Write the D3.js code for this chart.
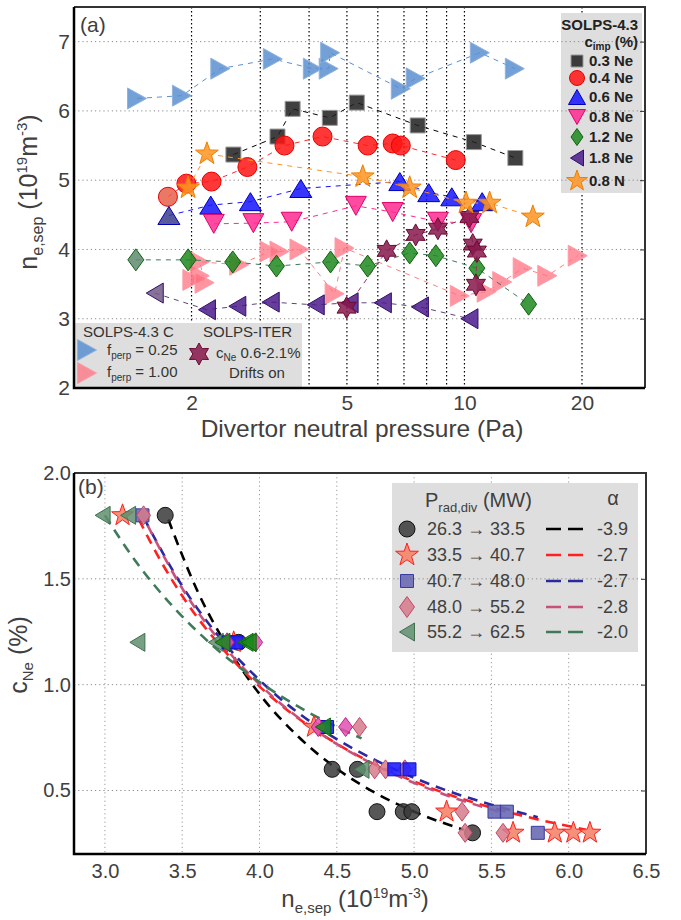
<!DOCTYPE html>
<html><head><meta charset="utf-8">
<script src="https://cdn.jsdelivr.net/npm/d3@7"></script>
<style>
body{margin:0;background:#fff}
svg{display:block}
text{font-family:"Liberation Sans",Arial,Helvetica,sans-serif}
</style>
</head><body>
<svg id="c" width="681" height="920"></svg>
<script>
// ================= DATA =================
// Panel (a): divertor neutral pressure (Pa) vs n_e,sep (1e19 m^-3)
const aXTicks = [2, 5, 10, 20];
const aYTicks = [2, 3, 4, 5, 6, 7];
const aXGrid = [2, 3, 4, 5, 6, 7, 8, 9, 10, 20];
const aYGrid = [3, 4, 5, 6, 7];

const aF025P = [1.45, 1.89, 2.37, 3.23, 4.09, 4.49, 4.53, 6.87, 7.5, 10.95, 13.46];
const aF025N = [6.18, 6.22, 6.61, 6.75, 6.61, 6.61, 6.84, 6.32, 6.47, 6.84, 6.61];
const aF100P = [2.01, 2.10, 2.16, 2.10, 2.65, 3.17, 3.36, 3.78, 4.65, 4.93, 9.73, 11.4, 12.5, 14.1, 16.3, 19.5];
const aF100N = [3.56, 3.62, 3.52, 3.82, 3.78, 3.97, 3.97, 4.00, 3.36, 4.02, 3.33, 3.39, 3.53, 3.73, 3.62, 3.91];
const aNe03P = [2.56, 3.32, 3.63, 4.52, 5.30, 7.59, 10.57, 13.5];
const aNe03N = [5.37, 5.63, 6.03, 5.90, 6.12, 5.79, 5.55, 5.32];
const aNe04P = [1.74, 1.94, 2.25, 2.78, 3.46, 4.33, 5.65, 6.55, 6.87, 9.5];
const aNe04N = [4.76, 4.95, 4.98, 5.19, 5.50, 5.63, 5.50, 5.53, 5.50, 5.29];
const aNe06P = [1.75, 2.24, 2.83, 3.81, 6.83, 8.1, 9.28, 11.1];
const aNe06N = [4.49, 4.64, 4.69, 4.88, 4.98, 4.82, 4.76, 4.69];
const aNe08P = [2.28, 2.88, 3.61, 5.27, 6.55, 8.55, 10.4];
const aNe08N = [4.37, 4.38, 4.40, 4.63, 4.54, 4.40, 4.38];
const aNe12P = [1.44, 1.96, 2.55, 3.30, 4.54, 5.65, 7.24, 8.45, 10.76, 14.6];
const aNe12N = [3.85, 3.85, 3.82, 3.76, 3.82, 3.76, 3.95, 3.91, 3.73, 3.21];
const aNe18P = [1.61, 2.19, 2.62, 3.19, 4.16, 5.08, 6.18, 7.69, 10.3];
const aNe18N = [3.37, 3.13, 3.18, 3.24, 3.20, 3.23, 3.23, 3.17, 3.00];
const aN08P = [1.96, 2.19, 5.49, 7.24, 10.09, 11.6, 14.97];
const aN08N = [4.89, 5.38, 5.05, 4.89, 4.67, 4.67, 4.47];
const aIterP = [4.99, 6.32, 7.5, 8.55, 10.3, 10.5, 10.76, 10.7];
const aIterN = [3.16, 3.98, 4.21, 4.30, 4.47, 4.07, 3.97, 3.49];
const aLegendLabels = ["0.3 Ne", "0.4 Ne", "0.6 Ne", "0.8 Ne", "1.2 Ne", "1.8 Ne", "0.8 N"];

// Panel (b): n_e,sep (1e19 m^-3) vs c_Ne (%)
const bXTicks = [3.0, 3.5, 4.0, 4.5, 5.0, 5.5, 6.0, 6.5];
const bYTicks = [0.5, 1.0, 1.5, 2.0];
const bXGrid = [3.0, 3.5, 4.0, 4.5, 5.0, 5.5, 6.0];
const bYGrid = [0.5, 1.0, 1.5];
const bPrad = ["26.3 \u2192 33.5", "33.5 \u2192 40.7", "40.7 \u2192 48.0", "48.0 \u2192 55.2", "55.2 \u2192 62.5"];
const bAlpha = ["-3.9", "-2.7", "-2.7", "-2.8", "-2.0"];

const bCircN = [3.39, 3.865, 4.47, 4.633, 4.76, 4.93, 4.985, 5.378];
const bCircC = [1.8, 1.2, 0.6, 0.6, 0.4, 0.4, 0.4, 0.3];
const bStarN = [3.114, 3.833, 4.352, 5.21, 5.64, 5.91, 6.03, 6.137];
const bStarC = [1.8, 1.2, 0.8, 0.4, 0.3, 0.3, 0.3, 0.3];
const bSqN = [3.243, 5.52, 5.60, 5.80];
const bSqC = [1.8, 0.4, 0.4, 0.3];
const bSqHiN = [3.80, 3.85, 4.437, 4.872, 4.97];
const bSqHiC = [1.2, 1.2, 0.8, 0.6, 0.6];
const bDiaN = [3.25, 4.647, 4.745, 4.815, 4.94, 5.31, 5.33, 5.575];
const bDiaC = [1.8, 0.8, 0.6, 0.6, 0.6, 0.4, 0.3, 0.3];
const bDiaHiN = [3.79, 3.975, 4.38, 4.557];
const bDiaHiC = [1.2, 1.2, 0.8, 0.8];
const bTriN = [2.985, 3.15, 3.21, 3.717, 4.66];
const bTriC = [1.8, 1.8, 1.2, 1.2, 0.6];
const bTriHiN = [3.76, 3.91, 3.93, 4.41];
const bTriHiC = [1.2, 1.2, 1.2, 0.8];

const fit1N = [3.41, 3.6, 3.8, 4.0, 4.25, 4.5, 4.75, 5.0, 5.32];
const fit1C = [1.78, 1.44, 1.17, 0.956, 0.755, 0.603, 0.488, 0.40, 0.314];
const fit2N = [3.22, 3.36, 3.54, 3.75, 4.09, 4.30, 4.58, 5.14, 5.70, 6.11];
const fit2C = [1.78, 1.586, 1.377, 1.18, 0.933, 0.815, 0.687, 0.503, 0.381, 0.315];
const fit3N = [3.25, 3.5, 3.75, 4.05, 4.4, 4.8, 5.2, 5.5, 5.8];
const fit3C = [1.79, 1.466, 1.216, 0.988, 0.789, 0.625, 0.503, 0.433, 0.374];
const fit4N = [3.25, 3.5, 3.75, 4.05, 4.4, 4.8, 5.2, 5.58];
const fit4C = [1.79, 1.455, 1.2, 0.967, 0.766, 0.601, 0.48, 0.394];
const fit5N = [3.0, 3.2, 3.45, 3.7, 4.0, 4.3, 4.66];
const fit5C = [1.8, 1.582, 1.361, 1.183, 1.0125, 0.876, 0.746];

// ================= HELPERS =================
function starPath(n, R, r) {
  const p = [];
  for (let i = 0; i < 2 * n; i++) {
    const a = -Math.PI / 2 + i * Math.PI / n, rr = i % 2 ? r : R;
    p.push((rr * Math.cos(a)).toFixed(2) + "," + (rr * Math.sin(a)).toFixed(2));
  }
  return "M" + p.join("L") + "Z";
}
function shape(type, w, h) {
  const a = w / 2, b = h / 2;
  switch (type) {
    case "right": return `M${-a},${-b}L${a},0L${-a},${b}Z`;
    case "left": return `M${a},${-b}L${-a},0L${a},${b}Z`;
    case "up": return `M0,${-b}L${a},${b}L${-a},${b}Z`;
    case "down": return `M${-a},${-b}L${a},${-b}L0,${b}Z`;
    case "square": return `M${-a},${-b}H${a}V${b}H${-a}Z`;
    case "diamond": return `M0,${-b}L${a},0L0,${b}L${-a},0Z`;
    case "circle": return `M${a},0A${a},${a} 0 1,1 ${-a},0A${a},${a} 0 1,1 ${a},0Z`;
    case "star5": return starPath(5, a, a * 0.40);
    case "star6": return starPath(6, a, a * 0.56);
  }
}
function marker(g, x, y, st, fillOverride) {
  g.append("path").attr("transform", `translate(${x},${y})`)
    .attr("d", shape(st.shape, st.w, st.h))
    .attr("fill", fillOverride || st.fill).attr("fill-opacity", st.op == null ? 0.85 : st.op)
    .attr("stroke", st.stroke).attr("stroke-width", 1);
}

const svg = d3.select("#c");
svg.append("rect").attr("width", 681).attr("height", 920).attr("fill", "#fff");
const TXT = "#404040";

// ================= PANEL (a) =================
const xA = d3.scaleLog().domain([1, 29]).range([74, 645]);
const yA = d3.scaleLinear().domain([2, 7.5]).range([388, 7]);

svg.append("g").selectAll("line").data(aXGrid).join("line")
  .attr("x1", d => xA(d)).attr("x2", d => xA(d)).attr("y1", 7).attr("y2", 388)
  .attr("stroke", "#000").attr("stroke-width", 1.2).attr("stroke-dasharray", "1.5,2.5");
svg.append("rect").attr("x", 561).attr("y", 13).attr("width", 81).attr("height", 180).attr("fill", "#dedede");
svg.append("rect").attr("x", 75).attr("y", 323).attr("width", 227).attr("height", 64).attr("fill", "#dedede");
svg.append("g").selectAll("line").data(aYGrid).join("line")
  .attr("x1", 74).attr("x2", 645).attr("y1", d => yA(d)).attr("y2", d => yA(d))
  .attr("stroke", "#8a8a8a").attr("stroke-width", 1).attr("stroke-dasharray", "1.2,3");

const stA = {
  f025: {shape: "right", w: 19, h: 21, fill: "#5b8fd0", stroke: "#8fb2de", line: "#5b8fd0"},
  f100: {shape: "right", w: 19, h: 21, fill: "#ff7282", stroke: "#ff9aa6", line: "#ff7f7f", op: 0.75},
  ne03: {shape: "square", w: 15, h: 15, fill: "#1e1e1e", stroke: "#9a9a9a", line: "#000"},
  ne04: {shape: "circle", w: 19, h: 19, fill: "#ff1414", stroke: "#e80000", line: "#ff2a2a", first: "#e8604a"},
  ne06: {shape: "up", w: 22, h: 18, fill: "#1414ff", stroke: "#0000b8", line: "#1414ff", first: "#3c3c8c"},
  ne08: {shape: "down", w: 21, h: 19, fill: "#ff2a90", stroke: "#e0006a", line: "#ff2a90"},
  ne12: {shape: "diamond", w: 16, h: 22, fill: "#1f8a1f", stroke: "#0f600f", line: "#3f7a5a", first: "#5f8a70"},
  ne18: {shape: "left", w: 17, h: 20, fill: "#4b1a8c", stroke: "#30106a", line: "#5e4478", first: "#735a86"},
  iter: {shape: "star6", w: 22, h: 22, fill: "#86184a", stroke: "#6a0a32", line: "#8a3a5c"},
  n08: {shape: "star5", w: 24, h: 24, fill: "#ff9422", stroke: "#ef7f00", line: "#ff9422"}
};
const gA = svg.append("g");
function seriesA(P, N, st) {
  const pts = P.map((p, i) => [xA(p), yA(N[i])]);
  gA.append("path").attr("d", d3.line()(pts)).attr("fill", "none")
    .attr("stroke", st.line).attr("stroke-width", 1).attr("stroke-dasharray", "5,5");
  pts.forEach((q, i) => marker(gA, q[0], q[1], st, i === 0 && st.first ? st.first : null));
}
seriesA(aF025P, aF025N, stA.f025);
seriesA(aF100P, aF100N, stA.f100);
seriesA(aNe03P, aNe03N, stA.ne03);
seriesA(aNe04P, aNe04N, stA.ne04);
seriesA(aNe06P, aNe06N, stA.ne06);
seriesA(aNe08P, aNe08N, stA.ne08);
seriesA(aNe12P, aNe12N, stA.ne12);
seriesA(aNe18P, aNe18N, stA.ne18);
seriesA(aIterP, aIterN, stA.iter);
seriesA(aN08P, aN08N, stA.n08);

const axAx = svg.append("g").attr("transform", "translate(0,388)")
  .call(d3.axisBottom(xA).tickValues(aXTicks).tickFormat(d3.format("d")).tickSize(0).tickPadding(7));
axAx.select(".domain").remove();
axAx.selectAll("text").attr("font-size", 21).attr("fill", TXT);
const axAy = svg.append("g").attr("transform", "translate(74,0)")
  .call(d3.axisLeft(yA).tickValues(aYTicks).tickFormat(d3.format("d")).tickSize(0).tickPadding(4));
axAy.select(".domain").remove();
axAy.selectAll("text").attr("font-size", 21).attr("fill", TXT);
const axAr = svg.append("g").attr("transform", "translate(645,0)")
  .call(d3.axisRight(yA).tickValues(aYGrid).tickSize(-5).tickFormat(""));
axAr.select(".domain").remove();
axAr.selectAll("line").attr("stroke", "#333");
svg.append("path").attr("d", "M74,7H645V388").attr("fill", "none").attr("stroke", "#333").attr("stroke-width", 2);
svg.append("path").attr("d", "M74,7V388H645").attr("fill", "none").attr("stroke", "#000").attr("stroke-width", 2.5);

svg.append("text").attr("x", 80).attr("y", 32).attr("font-size", 21).attr("fill", TXT).text("(a)");
svg.append("text").attr("x", 362).attr("y", 437).attr("text-anchor", "middle").attr("font-size", 24.5).attr("fill", TXT)
  .text("Divertor neutral pressure (Pa)");
{
  const t = svg.append("text").attr("transform", "translate(37,192) rotate(-90)").attr("text-anchor", "middle")
    .attr("font-size", 25).attr("fill", TXT);
  t.append("tspan").text("n");
  t.append("tspan").attr("font-size", 16).attr("dy", 6).text("e,sep");
  t.append("tspan").attr("dy", -6).text(" (10");
  t.append("tspan").attr("font-size", 15).attr("dy", -10).text("19");
  t.append("tspan").attr("dy", 10).text("m");
  t.append("tspan").attr("font-size", 15).attr("dy", -10).text("-3");
  t.append("tspan").attr("dy", 10).text(")");
}

// legend (a) right
{
  const g = svg.append("g");
  g.append("text").attr("x", 638).attr("y", 30).attr("text-anchor", "end").attr("font-size", 15)
    .attr("font-weight", "bold").attr("fill", "#222").text("SOLPS-4.3");
  const t = g.append("text").attr("x", 638).attr("y", 47).attr("text-anchor", "end").attr("font-size", 15)
    .attr("font-weight", "bold").attr("fill", "#222");
  t.append("tspan").text("c");
  t.append("tspan").attr("font-size", 10).attr("dy", 3).text("imp");
  t.append("tspan").attr("dy", -3).text(" (%)");
  const keys = ["ne03", "ne04", "ne06", "ne08", "ne12", "ne18", "n08"];
  const sizes = [[12, 12], [15, 15], [17, 15], [17, 15], [12, 17], [13, 16], [22, 22]];
  const rowsY = [61, 78, 97, 117, 137, 158, 181];
  keys.forEach((k, i) => {
    const st = Object.assign({}, stA[k], {w: sizes[i][0], h: sizes[i][1]});
    marker(g, 577, rowsY[i], st);
    g.append("text").attr("x", 589).attr("y", rowsY[i] + 5).attr("font-size", 15).attr("font-weight", "bold")
      .attr("fill", "#222").text(aLegendLabels[i]);
  });
}
// legend (a) bottom-left
{
  const g = svg.append("g");
  g.append("text").attr("x", 83).attr("y", 337).attr("font-size", 15).attr("fill", "#333").text("SOLPS-4.3 C");
  marker(g, 87, 350, stA.f025);
  marker(g, 87, 373, stA.f100);
  [["0.25", 355], ["1.00", 377]].forEach(([v, y]) => {
    const t = g.append("text").attr("x", 107).attr("y", y).attr("font-size", 15).attr("fill", "#333");
    t.append("tspan").text("f");
    t.append("tspan").attr("font-size", 10).attr("dy", 4).text("perp");
    t.append("tspan").attr("dy", -4).text(" = " + v);
  });
  g.append("text").attr("x", 203).attr("y", 337).attr("font-size", 15).attr("fill", "#333").text("SOLPS-ITER");
  marker(g, 199, 354, stA.iter);
  const t = g.append("text").attr("x", 216).attr("y", 358).attr("font-size", 15).attr("fill", "#333");
  t.append("tspan").text("c");
  t.append("tspan").attr("font-size", 10).attr("dy", 3).text("Ne");
  t.append("tspan").attr("dy", -3).text(" 0.6-2.1%");
  g.append("text").attr("x", 229).attr("y", 378).attr("font-size", 15).attr("fill", "#333").text("Drifts on");
}

// ================= PANEL (b) =================
const xB = d3.scaleLinear().domain([2.8, 6.5]).range([74, 646]);
const yB = d3.scaleLinear().domain([0.2, 2.0]).range([854, 473]);

svg.append("g").selectAll("line").data(bXGrid).join("line")
  .attr("x1", d => xB(d)).attr("x2", d => xB(d)).attr("y1", 473).attr("y2", 854)
  .attr("stroke", "#9a9a9a").attr("stroke-width", 1).attr("stroke-dasharray", "1.2,3");
svg.append("rect").attr("x", 392).attr("y", 483).attr("width", 246).attr("height", 169).attr("fill", "#dedede");
svg.append("g").selectAll("line").data(bYGrid).join("line")
  .attr("x1", 74).attr("x2", 646).attr("y1", d => yB(d)).attr("y2", d => yB(d))
  .attr("stroke", "#8a8a8a").attr("stroke-width", 1).attr("stroke-dasharray", "1.2,3");

const fitStyles = [
  {color: "#000000", off: 0}, {color: "#ff2020", off: 0}, {color: "#2a2aa0", off: 0},
  {color: "#c8507a", off: 8}, {color: "#3f7a5a", off: 0}
];
const fitsN = [fit1N, fit2N, fit3N, fit4N, fit5N];
const fitsC = [fit1C, fit2C, fit3C, fit4C, fit5C];
const lineB = d3.line().x(d => xB(d[0])).y(d => yB(d[1])).curve(d3.curveMonotoneX);
const gB = svg.append("g");
fitsN.forEach((N, k) => {
  gB.append("path").attr("d", lineB(N.map((n, i) => [n, fitsC[k][i]]))).attr("fill", "none")
    .attr("stroke", fitStyles[k].color).attr("stroke-width", 2.6)
    .attr("stroke-dasharray", "10,7").attr("stroke-dashoffset", fitStyles[k].off);
});

const stB = {
  circ: {shape: "circle", w: 16, h: 16, fill: "#3a3a3a", stroke: "#111", op: 0.85},
  star: {shape: "star5", w: 23, h: 23, fill: "#f4846a", stroke: "#ff2020", op: 0.9},
  sq: {shape: "square", w: 13, h: 13, fill: "#6a6ab4", stroke: "#3a3aa0", op: 0.9},
  sqHi: {shape: "square", w: 13, h: 13, fill: "#2020ff", stroke: "#1010c0", op: 0.9},
  dia: {shape: "diamond", w: 14, h: 19, fill: "#d67a8c", stroke: "#c04a64", op: 0.85},
  diaHi: {shape: "diamond", w: 14, h: 19, fill: "#e050b0", stroke: "#c02090", op: 0.85},
  tri: {shape: "left", w: 15, h: 18, fill: "#5f8f6f", stroke: "#3f6f4f", op: 0.85},
  triHi: {shape: "left", w: 15, h: 18, fill: "#1a8a1a", stroke: "#0a6a0a", op: 0.85}
};
function seriesB(N, C, st) { N.forEach((n, i) => marker(gB, xB(n), yB(C[i]), st)); }
seriesB(bCircN, bCircC, stB.circ);
seriesB(bStarN, bStarC, stB.star);
seriesB(bSqN, bSqC, stB.sq);
seriesB(bDiaN, bDiaC, stB.dia);
seriesB(bTriN, bTriC, stB.tri);
seriesB(bSqHiN, bSqHiC, stB.sqHi);
seriesB(bDiaHiN, bDiaHiC, stB.diaHi);
seriesB(bTriHiN, bTriHiC, stB.triHi);

const axBx = svg.append("g").attr("transform", "translate(0,854)")
  .call(d3.axisBottom(xB).tickValues(bXTicks).tickFormat(d3.format(".1f")).tickSize(0).tickPadding(10));
axBx.select(".domain").remove();
axBx.selectAll("text").attr("font-size", 20).attr("fill", TXT);
const axBy = svg.append("g").attr("transform", "translate(74,0)")
  .call(d3.axisLeft(yB).tickValues(bYTicks).tickFormat(d3.format(".1f")).tickSize(0).tickPadding(3));
axBy.select(".domain").remove();
axBy.selectAll("text").attr("font-size", 20).attr("fill", TXT);
const axBr = svg.append("g").attr("transform", "translate(646,0)")
  .call(d3.axisRight(yB).tickValues(bYGrid).tickSize(-5).tickFormat(""));
axBr.select(".domain").remove();
axBr.selectAll("line").attr("stroke", "#333");
svg.append("path").attr("d", "M74,473H646V854").attr("fill", "none").attr("stroke", "#333").attr("stroke-width", 2);
svg.append("path").attr("d", "M74,473V854H646").attr("fill", "none").attr("stroke", "#000").attr("stroke-width", 2.5);

svg.append("text").attr("x", 78).attr("y", 494).attr("font-size", 21).attr("fill", TXT).text("(b)");
{
  const t = svg.append("text").attr("x", 355).attr("y", 907).attr("text-anchor", "middle")
    .attr("font-size", 24).attr("fill", TXT);
  t.append("tspan").text("n");
  t.append("tspan").attr("font-size", 15).attr("dy", 6).text("e,sep");
  t.append("tspan").attr("dy", -6).text(" (10");
  t.append("tspan").attr("font-size", 14).attr("dy", -9).text("19");
  t.append("tspan").attr("dy", 9).text("m");
  t.append("tspan").attr("font-size", 14).attr("dy", -9).text("-3");
  t.append("tspan").attr("dy", 9).text(")");
}
{
  const t = svg.append("text").attr("transform", "translate(27,655) rotate(-90)").attr("text-anchor", "middle")
    .attr("font-size", 25).attr("fill", TXT);
  t.append("tspan").text("c");
  t.append("tspan").attr("font-size", 15).attr("dy", 6).text("Ne");
  t.append("tspan").attr("dy", -6).text(" (%)");
}

// legend (b)
{
  const g = svg.append("g");
  const h = g.append("text").attr("x", 425).attr("y", 507).attr("font-size", 20).attr("fill", TXT);
  h.append("tspan").text("P");
  h.append("tspan").attr("font-size", 13).attr("dy", 5).text("rad,div");
  h.append("tspan").attr("dy", -5).text(" (MW)");
  g.append("text").attr("x", 613).attr("y", 505).attr("text-anchor", "middle").attr("font-size", 20)
    .attr("fill", TXT).text("\u03b1");
  const rowsY = [529, 555, 581, 607, 632];
  const mk = [stB.circ, stB.star, stB.sq, stB.dia, stB.tri];
  const mkSize = [[16, 16], [24, 24], [13, 13], [15, 21], [15, 18]];
  rowsY.forEach((y, i) => {
    marker(g, 407, y, Object.assign({}, mk[i], {w: mkSize[i][0], h: mkSize[i][1]}));
    g.append("text").attr("x", 427).attr("y", y + 6).attr("font-size", 18).attr("fill", TXT).text(bPrad[i]);
    g.append("line").attr("x1", 546).attr("x2", 584).attr("y1", y).attr("y2", y)
      .attr("stroke", fitStyles[i].color).attr("stroke-width", 2.6).attr("stroke-dasharray", "15,7");
    g.append("text").attr("x", 628).attr("y", y + 6).attr("text-anchor", "end").attr("font-size", 18)
      .attr("fill", TXT).text(bAlpha[i]);
  });
}
</script>
</body></html>
